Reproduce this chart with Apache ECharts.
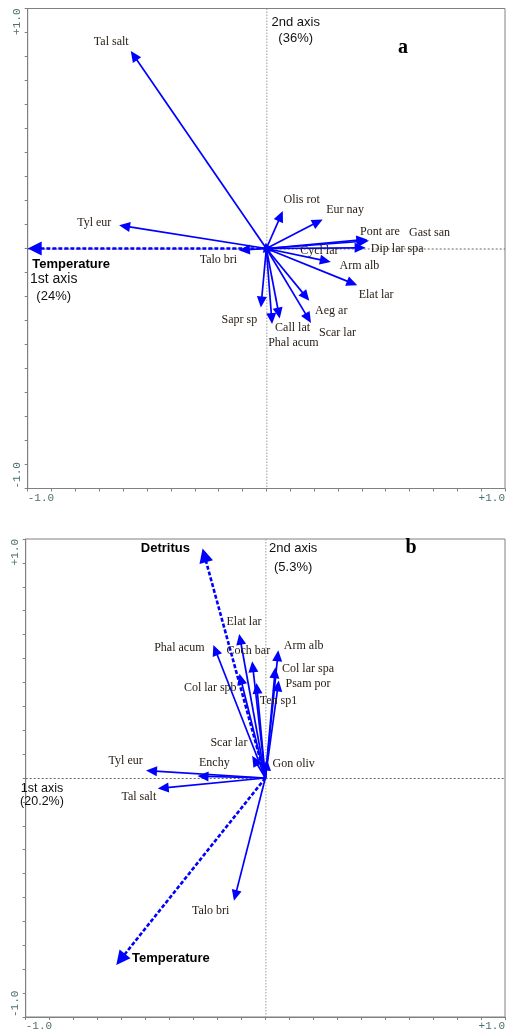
<!DOCTYPE html>
<html><head><meta charset="utf-8">
<script src="https://cdn.jsdelivr.net/npm/echarts@6/dist/echarts.min.js"></script>
<style>html,body{margin:0;padding:0;background:#fff;overflow:hidden}#c{width:508px;height:1032px}</style>
</head><body><div id="c"></div>
<script>
// ---- tick labels ----
const tickLabelMin = '-1.0';
const tickLabelMax = '+1.0';

// ---- panel a : species vectors ----
const speciesA = ['Tal salt','Tyl eur','Talo bri','Olis rot','Eur nay','Pont are','Gast san','Dip lar spa','Cycl lar','Arm alb','Elat lar','Aeg ar','Scar lar','Call lat','Phal acum','Sapr sp'];
const axis1A   = [-0.568,-0.617,-0.115,0.069,0.236,0.423,0.430,0.416,0.035,0.270,0.381,0.180,0.187,0.056,0.024,-0.023];
const axis2A   = [0.823,0.097,-0.007,0.156,0.121,0.038,0.032,0.003,-0.010,-0.056,-0.153,-0.218,-0.310,-0.292,-0.315,-0.246];
const labelXA  = [-0.650,-0.721,-0.201,0.148,0.330,0.476,0.684,0.548,0.222,0.390,0.460,0.272,0.298,0.110,0.113,-0.113];
const labelYA  = [0.861,0.108,-0.046,0.201,0.163,0.069,0.067,-0.003,-0.011,-0.072,-0.195,-0.260,-0.350,-0.331,-0.393,-0.299];
// environmental variable
const envA      = ['Temperature'];
const envAxis1A = [-1.0];
const envAxis2A = [0.0];
const envLabXA  = [-0.981];
const envLabYA  = [-0.065];
const titlesA = { axis2: ['2nd axis','(36%)'], axis1: ['1st axis','(24%)'], panel: 'a' };

// ---- panel b : species vectors ----
const speciesB = ['Elat lar','Phal acum','Coch bar','Col lar spb','Ten sp1','Arm alb','Col lar spa','Psam por','Scar lar','Gon oliv','Tyl eur','Enchy','Tal salt','Talo bri'];
const axis1B   = [-0.109,-0.217,-0.055,-0.108,-0.037,0.054,0.042,0.056,-0.055,0.007,-0.498,-0.283,-0.449,-0.131];
const axis2B   = [0.603,0.557,0.488,0.436,0.398,0.534,0.463,0.408,0.093,0.077,0.031,0.008,-0.044,-0.514];
const labelXB  = [-0.089,-0.359,-0.071,-0.230,0.055,0.160,0.178,0.178,-0.152,0.118,-0.583,-0.213,-0.528,-0.228];
const labelYB  = [0.652,0.546,0.533,0.379,0.323,0.553,0.457,0.393,0.147,0.059,0.070,0.063,-0.080,-0.556];
const envB      = ['Detritus','Temperature'];
const envAxis1B = [-0.262,-0.622];
const envAxis2B = [0.960,-0.782];
const envLabXB  = [-0.417,-0.394];
const envLabYB  = [0.961,-0.754];
const titlesB = { axis2: ['2nd axis','(5.3%)'], axis1: ['1st axis','(20.2%)'], panel: 'b' };

const BLUE = '#0000ff';
const chart = echarts.init(document.getElementById('c'), null, {renderer:'canvas'});

function fmt(v){ if (Math.abs(v+1)<1e-9) return tickLabelMin; if (Math.abs(v-1)<1e-9) return tickLabelMax; return ''; }
function mkX(i){ return {type:'value', gridIndex:i, min:-1, max:1, interval:0.1,
  splitLine:{show:false},
  axisLine:{onZero:false, lineStyle:{color:'#808080', width:1}},
  axisTick:{show:true, inside:false, length:3, lineStyle:{color:'#808080'}},
  axisLabel:{formatter:fmt, margin:4, fontFamily:'Liberation Mono', fontSize:11, color:'#4d7070',
    alignMinLabel:'left', alignMaxLabel:'right', showMinLabel:true, showMaxLabel:true}}; }
function mkY(i){ return {type:'value', gridIndex:i, min:-1, max:1, interval:0.1,
  splitLine:{show:false},
  axisLine:{onZero:false, lineStyle:{color:'#808080', width:1}},
  axisTick:{show:true, inside:false, length:3, lineStyle:{color:'#808080'}},
  axisLabel:{formatter:fmt, rotate:90, margin:5, fontFamily:'Liberation Mono', fontSize:11, color:'#4d7070',
    alignMinLabel:'left', alignMaxLabel:'right', showMinLabel:true, showMaxLabel:true}}; }

function crossSeries(i){
  return {type:'custom', xAxisIndex:i, yAxisIndex:i, silent:true, clip:false, z:1, data:[[0,0]],
    renderItem:function(p, api){
      const l = api.coord([-1,0]), r = api.coord([1,0]), t = api.coord([0,1]), b = api.coord([0,-1]);
      return {type:'group', children:[
        {type:'line', shape:{x1:t[0]+0.5,y1:t[1],x2:b[0]+0.5,y2:b[1]}, style:{stroke:'#9a9a9a', lineWidth:1, lineDash:[1.5,1.5]}},
        {type:'line', shape:{x1:l[0],y1:l[1]+0.5,x2:r[0],y2:r[1]+0.5}, style:{stroke:'#666', lineWidth:1, lineDash:[2,2]}}
      ]};
    }};
}

function arrowSeries(i, xs, ys, opts){
  return {type:'custom', xAxisIndex:i, yAxisIndex:i, silent:true, clip:false, z:opts.z||3,
    data: xs.map((x,k)=>[x, ys[k]]),
    encode:{x:0, y:1},
    renderItem:function(p, api){
      const o = api.coord([0,0]); const t = api.coord([api.value(0), api.value(1)]);
      const dx=t[0]-o[0], dy=t[1]-o[1]; const len=Math.hypot(dx,dy)||1;
      const ux=dx/len, uy=dy/len; const L=opts.hl, W=opts.hw;
      const bx=t[0]-ux*L, by=t[1]-uy*L;
      return {type:'group', children:[
        {type:'line', shape:{x1:o[0],y1:o[1],x2:bx+ux*2,y2:by+uy*2},
          style:{stroke:BLUE, lineWidth:opts.lw, lineDash:opts.dash||null}},
        {type:'polygon', shape:{points:[[t[0],t[1]],[bx-uy*W,by+ux*W],[bx+uy*W,by-ux*W]]},
          style:{fill:BLUE}}
      ]};
    }};
}

function textSeries(i, items){
  // items: [x, y, text, align, fontFamily, fontSize, fontWeight, color]
  return {type:'custom', xAxisIndex:i, yAxisIndex:i, silent:true, clip:false, z:5,
    data: items.map(it=>[it[0], it[1]]),
    encode:{x:0, y:1},
    renderItem:function(p, api){
      const it = items[p.dataIndex];
      const c = api.coord([it[0], it[1]]);
      return {type:'text', x:c[0], y:c[1], style:{text:it[2], align:it[3], verticalAlign:'middle',
        fontFamily:it[4], fontSize:it[5], fontWeight:it[6], fill:it[7]}};
    }};
}

const SERIF='Liberation Serif', SANS='Liberation Sans';
function panelTexts(species, lx, ly, env, elx, ely, envAlign, titles, t2, t1, tp){
  const items = [];
  species.forEach((s,k)=>items.push([lx[k], ly[k], s, 'center', SERIF, 12, 'normal', '#2a2118']));
  env.forEach((s,k)=>items.push([elx[k], ely[k], s, envAlign[k], SANS, 13, 'bold', '#000']));
  items.push([t2[0], t2[1], titles.axis2[0], 'center', SANS, 13, 'normal', '#111']);
  items.push([t2[0], t2[2], titles.axis2[1], 'center', SANS, 13, 'normal', '#111']);
  items.push([t1[0], t1[1], titles.axis1[0], 'center', SANS, t1[3], 'normal', '#111']);
  items.push([t1[0], t1[2], titles.axis1[1], 'center', SANS, t1[4], 'normal', '#111']);
  items.push([tp[0], tp[1], titles.panel, 'center', SERIF, 20, 'bold', '#000']);
  return items;
}

const textsA = panelTexts(speciesA, labelXA, labelYA, envA, envLabXA, envLabYA, ['left'], titlesA,
  [0.123, 0.944, 0.877], [-0.891, -0.129, -0.199, 14, 13], [0.573, 0.836]);
const textsB = panelTexts(speciesB, labelXB, labelYB, envB, envLabXB, envLabYB, ['center','center'], titlesB,
  [0.116, 0.961, 0.881], [-0.932, -0.044, -0.097, 12.5, 12.5], [0.608, 0.961]);

const option = {
  animation:false,
  grid:[
    {left:27.7, top:8.5, width:481.5, height:480, show:true, borderColor:'#808080', borderWidth:1},
    {left:25.7, top:539, width:481.2, height:479.5, show:true, borderColor:'#808080', borderWidth:1}
  ],
  xAxis:[mkX(0), mkX(1)],
  yAxis:[mkY(0), mkY(1)],
  series:[
    crossSeries(0), crossSeries(1),
    arrowSeries(0, axis1A, axis2A, {hl:11, hw:5, lw:1.7}),
    arrowSeries(0, envAxis1A, envAxis2A, {hl:14, hw:7, lw:2.6, dash:[4,2], z:4}),
    arrowSeries(1, axis1B, axis2B, {hl:11, hw:5, lw:1.7}),
    arrowSeries(1, envAxis1B, envAxis2B, {hl:14, hw:7, lw:2.6, dash:[4,2], z:4}),
    textSeries(0, textsA), textSeries(1, textsB)
  ]
};
chart.setOption(option);
</script></body></html>
